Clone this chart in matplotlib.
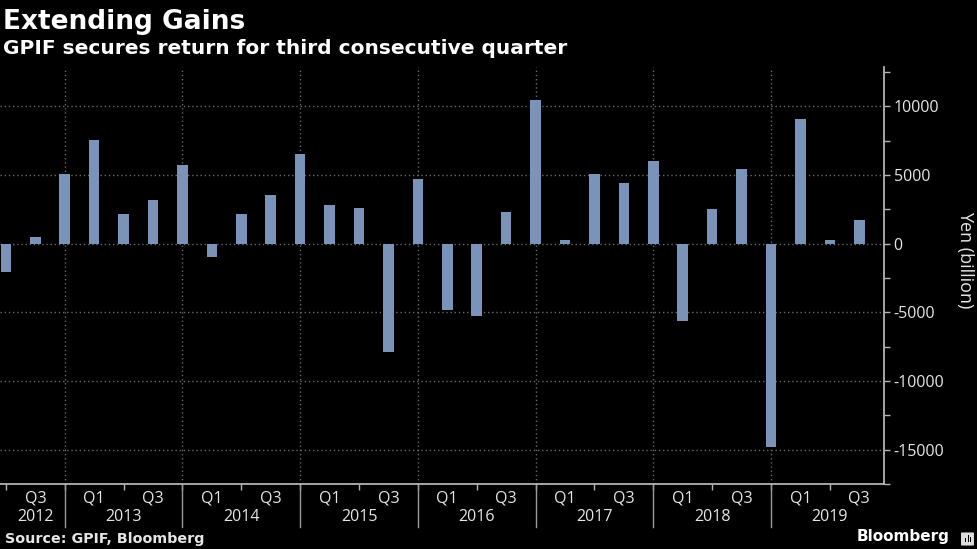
import matplotlib
matplotlib.use('Agg')
import matplotlib.pyplot as plt
from matplotlib.lines import Line2D
from matplotlib.patches import FancyBboxPatch, Rectangle
import numpy as np

# quarterly investment return, Q2 2012 .. Q3 2019
quarters = ['Q2', 'Q3', 'Q4', 'Q1', 'Q2', 'Q3', 'Q4', 'Q1', 'Q2', 'Q3',
            'Q4', 'Q1', 'Q2', 'Q3', 'Q4', 'Q1', 'Q2', 'Q3', 'Q4', 'Q1',
            'Q2', 'Q3', 'Q4', 'Q1', 'Q2', 'Q3', 'Q4', 'Q1', 'Q2', 'Q3']
years = [2012, 2012, 2012, 2013, 2013, 2013, 2013, 2014, 2014, 2014,
         2014, 2015, 2015, 2015, 2015, 2016, 2016, 2016, 2016, 2017,
         2017, 2017, 2017, 2018, 2018, 2018, 2018, 2019, 2019, 2019]
returns = [-2100, 500, 5100, 7550, 2150, 3200, 5700, -1000, 2150, 3550,
           6550, 2800, 2600, -7900, 4700, -4800, -5250, 2300, 10450, 260,
           5100, 4400, 6050, -5600, 2550, 5400, -14800, 9100, 240, 1750]
year_labels = ['2012', '2013', '2014', '2015', '2016', '2017', '2018', '2019']
y_ticks = [-15000, -10000, -5000, 0, 5000, 10000]

BG = '#000000'
BAR = '#7b93b9'
GRID = '#6a6a6a'
AXIS = '#b4b4b4'
TXT = '#e6e6e6'
TICKFONT = ['Open Sans', 'DejaVu Sans']

fig = plt.figure(figsize=(9.77, 5.49), dpi=100, facecolor=BG)
ax = fig.add_axes([0.0, 1 - 484 / 549, 884 / 977, (484 - 67) / 549])
ax.set_facecolor(BG)

x = np.arange(len(returns))
ax.bar(x, returns, width=0.36, color=BAR, zorder=3)

ax.set_xlim(-0.2, len(returns) - 1 + 0.84)
ax.set_ylim(-17270, 12860)

# y axis on the right
ax.yaxis.tick_right()
ax.set_yticks(y_ticks)
ax.set_yticklabels([str(v) for v in y_ticks], family=TICKFONT, fontsize=11.5, color=TXT)
ax.set_yticks(np.arange(-17500, 12600, 2500), minor=True)
ax.tick_params(axis='y', which='both', direction='out', color=AXIS, width=1, pad=3)
ax.tick_params(axis='y', which='major', length=4)
ax.tick_params(axis='y', which='minor', length=4)
ax.yaxis.grid(True, which='major', linestyle=(0, (1, 2)), color=GRID, linewidth=1, zorder=0)

for side in ['top', 'left']:
    ax.spines[side].set_visible(False)
ax.spines['right'].set_color(AXIS)
ax.spines['right'].set_linewidth(1.3)
ax.spines['bottom'].set_color(AXIS)
ax.spines['bottom'].set_linewidth(1.3)

# x axis: Q1/Q3 labels, small ticks at Q2/Q4
q_pos = [i for i, q in enumerate(quarters) if q in ('Q1', 'Q3')]
ax.set_xticks(q_pos)
ax.set_xticklabels([quarters[i] for i in q_pos], family=TICKFONT, fontsize=11.5, color=TXT)
ax.tick_params(axis='x', which='major', length=0, pad=5)
minor_pos = [i for i, q in enumerate(quarters) if q in ('Q2', 'Q4')]
ax.set_xticks(minor_pos, minor=True)
ax.tick_params(axis='x', which='minor', direction='out', length=4, color=AXIS, width=1)

# year separators at Q4 bars
sep = [i for i, q in enumerate(quarters) if q == 'Q4']
tr = ax.get_xaxis_transform()
for s in sep:
    ax.axvline(s, color=GRID, linestyle=(0, (1, 2)), linewidth=1, zorder=0)
    ax.add_line(Line2D([s, s], [0, -(527 - 484) / 417], transform=tr,
                       color='#9a9a9a', linewidth=1, clip_on=False))

# year labels centred between separators
bounds = [-2] + sep + [sep[-1] + 4]
for k, lab in enumerate(year_labels):
    lo, hi = bounds[k], bounds[k + 1]
    if k == 0:
        xc = 1
    else:
        xc = (lo + hi) / 2
    ax.text(xc, -(517 - 484) / 417, lab, transform=tr, ha='center', va='center',
            family=TICKFONT, fontsize=11.5, color=TXT, clip_on=False)

fig.text(965 / 977, 1 - 260 / 549, 'Yen (billion)', rotation=270, ha='center', va='center',
         family=TICKFONT, fontsize=13, color=TXT)

fig.text(3 / 977, 1 - 29 / 549, 'Extending Gains', ha='left', va='baseline',
         fontsize=19, fontweight='bold', color='white', family='DejaVu Sans')
fig.text(3 / 977, 1 - 54 / 549, 'GPIF secures return for third consecutive quarter',
         ha='left', va='baseline', fontsize=14.5, fontweight='bold', color='white', family='DejaVu Sans')
fig.text(5 / 977, 1 - 539 / 549, 'Source: GPIF, Bloomberg', ha='left', va='center',
         fontsize=10.3, fontweight='bold', color=TXT, family='DejaVu Sans')
fig.text(950 / 977, 1 - 537 / 549, 'Bloomberg', ha='right', va='center',
         fontsize=11, fontweight='bold', color='white', family='DejaVu Sans')

# small logo icon
fig.patches.append(FancyBboxPatch((962 / 977, 1 - 545 / 549), 11 / 977, 12 / 549,
                                  boxstyle='round,pad=0.001', transform=fig.transFigure,
                                  facecolor='#dddddd', edgecolor='none'))
for dx, h in [(965, 4), (967.5, 7), (970, 5)]:
    fig.patches.append(Rectangle((dx / 977, 1 - 542 / 549), 1.4 / 977, h / 549,
                                 transform=fig.transFigure, facecolor='black', edgecolor='none'))

fig.savefig('out.png', dpi=100, facecolor=BG)
